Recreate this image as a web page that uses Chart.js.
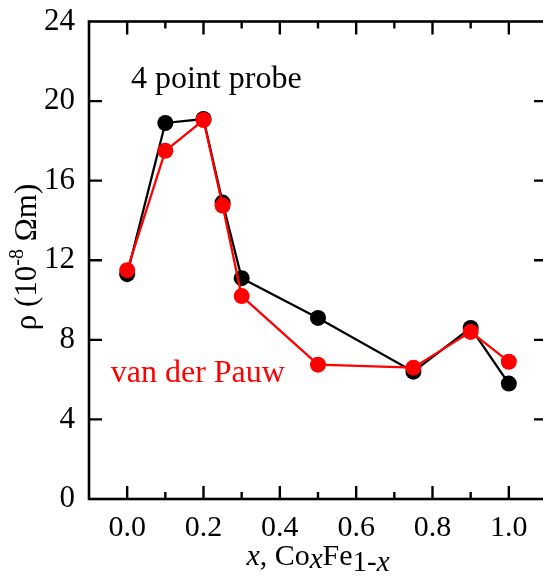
<!DOCTYPE html>
<html>
<head>
<meta charset="utf-8">
<script src="https://cdn.jsdelivr.net/npm/chart.js@4"></script>
<style>
  html, body { margin: 0; padding: 0; background: #fff; overflow: hidden; }
  #wrap { position: absolute; left: 0; top: 0; width: 543px; height: 581px; overflow: hidden; }
</style>
</head>
<body>
<div id="wrap"><canvas id="chart" width="560" height="581"></canvas></div>
<script>
// Samenstelling x in CoxFe1-x
const xWaarden = [0.0, 0.1, 0.2, 0.25, 0.3, 0.5, 0.75, 0.9, 1.0];
// Resistiviteit (10^-8 Ωm)
const vierPunt  = [11.3, 18.9, 19.1, 14.9, 11.1, 9.1, 6.4, 8.6, 5.8];
const vanDerPauw = [11.5, 17.5, 19.05, 14.75, 10.2, 6.75, 6.6, 8.4, 6.9];

const xMajor = [0.0, 0.2, 0.4, 0.6, 0.8, 1.0];
const xMinor = [0.1, 0.3, 0.5, 0.7, 0.9];
const yMajor = [0, 4, 8, 12, 16, 20, 24];

const SERIF = '"Liberation Serif", "Times New Roman", serif';

const punten = arr => xWaarden.map((x, i) => ({ x, y: arr[i] }));

// Kader met naar binnen wijzende tickjes op alle vier zijden.
const kaderPlugin = {
  id: 'kader',
  beforeDatasetsDraw(c) {
    const { ctx, chartArea: a, scales: { x, y } } = c;
    ctx.save();
    ctx.strokeStyle = '#000';
    ctx.lineWidth = 2.6;
    ctx.strokeRect(a.left, a.top, a.right - a.left, a.bottom - a.top);
    ctx.lineWidth = 2.4;
    ctx.beginPath();
    const xTick = (v, len) => {
      const px = x.getPixelForValue(v);
      ctx.moveTo(px, a.bottom); ctx.lineTo(px, a.bottom - len);
      ctx.moveTo(px, a.top);    ctx.lineTo(px, a.top + len);
    };
    xMajor.forEach(v => xTick(v, 13));
    xMinor.forEach(v => xTick(v, 7));
    yMajor.slice(1, -1).forEach(v => {
      const py = y.getPixelForValue(v);
      ctx.moveTo(a.left, py);  ctx.lineTo(a.left + 13, py);
      ctx.moveTo(a.right, py); ctx.lineTo(a.right - 13, py);
    });
    ctx.stroke();
    ctx.restore();
  },
  afterDraw(c) {
    const { ctx, scales: { x, y } } = c;
    ctx.save();
    ctx.textBaseline = 'alphabetic';
    ctx.textAlign = 'left';

    // Labels in de grafiek
    ctx.font = '32px ' + SERIF;
    ctx.fillStyle = '#000';
    ctx.fillText('4 point probe', x.getPixelForValue(0.01), y.getPixelForValue(20.68));
    ctx.fillStyle = '#ff0000';
    ctx.fillText('van der Pauw', x.getPixelForValue(-0.043), y.getPixelForValue(5.88));

    // x-as titel: x, CoxFe1-x
    ctx.fillStyle = '#000';
    const delen = [
      { t: 'x',    f: 'italic 30px ', dy: 0 },
      { t: ', Co', f: '30px ', dy: 0 },
      { t: 'x',    f: 'italic 29px ', dy: 3 },
      { t: 'Fe',   f: '30px ', dy: 0 },
      { t: '1-',   f: '29px ', dy: 6 },
      { t: 'x',    f: 'italic 29px ', dy: 6 }
    ];
    let breedte = 0;
    delen.forEach(d => { ctx.font = d.f + SERIF; d.w = ctx.measureText(d.t).width; breedte += d.w; });
    let xp = 318 - breedte / 2;
    delen.forEach(d => { ctx.font = d.f + SERIF; ctx.fillText(d.t, xp, 565 + d.dy); xp += d.w; });

    // y-as titel: ρ (10^-8 Ωm)
    const ydelen = [
      { t: 'ρ (10', f: '31px ', dy: 0 },
      { t: '-8',    f: '20px ', dy: -13 },
      { t: ' Ωm)',  f: '31px ', dy: 0 }
    ];
    breedte = 0;
    ydelen.forEach(d => { ctx.font = d.f + SERIF; d.w = ctx.measureText(d.t).width; breedte += d.w; });
    ctx.translate(36, 257);
    ctx.rotate(-Math.PI / 2);
    xp = -breedte / 2;
    ydelen.forEach(d => { ctx.font = d.f + SERIF; ctx.fillText(d.t, xp, d.dy); xp += d.w; });
    ctx.restore();
  }
};

new Chart(document.getElementById('chart'), {
  type: 'scatter',
  plugins: [kaderPlugin],
  data: {
    datasets: [
      { data: punten(vanDerPauw), showLine: true, borderColor: '#ff0000', backgroundColor: '#ff0000',
        borderWidth: 2.3, pointRadius: 8, pointBorderWidth: 0, order: 1 },
      { data: punten(vierPunt), showLine: true, borderColor: '#000', backgroundColor: '#000',
        borderWidth: 2.3, pointRadius: 8, pointBorderWidth: 0, order: 2 }
    ]
  },
  options: {
    responsive: false, animation: false,
    layout: { padding: { top: 17, right: 13, left: 0, bottom: 0 } },
    plugins: { legend: { display: false }, tooltip: { enabled: false } },
    scales: {
      x: {
        type: 'linear', min: -0.1, max: 1.1,
        afterBuildTicks: s => { s.ticks = xMajor.map(v => ({ value: v })); },
        afterFit: s => { s.height = 82; },
        ticks: { color: '#000', font: { family: SERIF, size: 30, lineHeight: 1 }, padding: 6, maxRotation: 0, autoSkip: false,
                 callback: v => v.toFixed(1) },
        grid: { display: false }, border: { display: false }
      },
      y: {
        min: 0, max: 24,
        afterBuildTicks: s => { s.ticks = yMajor.map(v => ({ value: v })); },
        afterFit: s => { s.width = 89; },
        ticks: { color: '#000', font: { family: SERIF, size: 31, lineHeight: 1 }, padding: 6 },
        grid: { display: false }, border: { display: false }
      }
    }
  }
});
</script>
</body>
</html>
